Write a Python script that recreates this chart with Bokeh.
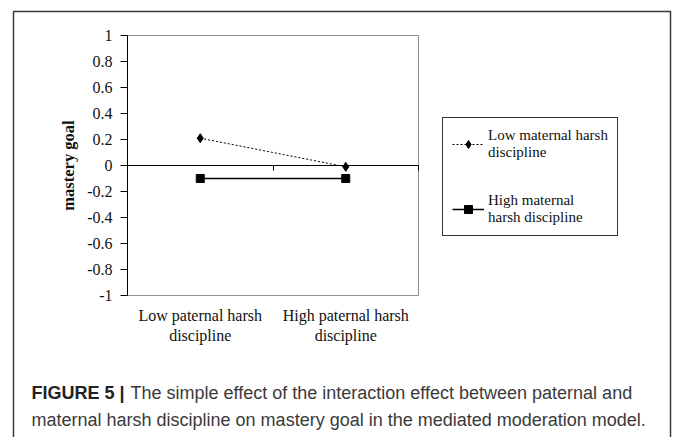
from bokeh.plotting import figure
from bokeh.models import (Range1d, LinearAxis, FixedTicker, CustomJSTickFormatter,
                          Legend, LegendItem, Label, BoxAnnotation)
from bokeh.embed import file_html
from bokeh.resources import INLINE

categories = ["Low paternal harsh\ndiscipline", "High paternal harsh\ndiscipline"]
series_names = ["Low maternal harsh\ndiscipline", "High maternal\nharsh discipline"]
low_maternal = [0.21, -0.01]
high_maternal = [-0.10, -0.10]
y_ticks = [-1, -0.8, -0.6, -0.4, -0.2, 0, 0.2, 0.4, 0.6, 0.8, 1]
y_title = "mastery goal"
caption_bold = "FIGURE 5 |"
caption_lines = ["The simple effect of the interaction effect between paternal and",
                 "maternal harsh discipline on mastery goal in the mediated moderation model."]

# page / layout geometry (pixels)
W, H = 673, 437
PA_L, PA_R, PA_T, PA_B = 127, 418, 35, 295      # plot area
SERIF = "Liberation Serif"
SANS = "Liberation Sans"

n = len(categories)
xs = [i + 0.5 for i in range(n)]
bounds = list(range(n + 1))
y0, y1 = y_ticks[0], y_ticks[-1]

kx = (PA_R - PA_L) / n
ky = (PA_B - PA_T) / (y1 - y0)
x_range = Range1d(-PA_L / kx, (W - PA_L) / kx)
y_range = Range1d(y0 - (H - PA_B) / ky, y1 + PA_T / ky)

p = figure(width=W, height=H, output_backend="svg", toolbar_location=None,
           x_range=x_range, y_range=y_range, x_axis_type=None, y_axis_type=None,
           min_border=0)
p.grid.visible = False
p.outline_line_color = None
p.background_fill_color = "white"
p.border_fill_color = "white"

# plot-area border
p.quad(left=[0], right=[n], bottom=[y0], top=[y1], fill_color=None,
       line_color="#8c8c8c", line_width=1)

# value axis
yaxis = LinearAxis(ticker=FixedTicker(ticks=y_ticks), fixed_location=0, bounds=(y0, y1),
                   formatter=CustomJSTickFormatter(code="return (Math.round(tick*10)/10).toString()"),
                   axis_label=y_title)
yaxis.major_label_text_font = SERIF
yaxis.major_label_text_font_size = "16px"
yaxis.major_label_text_color = "#111"
yaxis.major_tick_out = 7
yaxis.major_tick_in = 0
yaxis.minor_tick_line_color = None
yaxis.axis_line_color = "black"
yaxis.major_tick_line_color = "black"
yaxis.major_label_standoff = 8
yaxis.axis_label_text_font = SERIF
yaxis.axis_label_text_font_style = "bold"
yaxis.axis_label_text_font_size = "16.5px"
yaxis.axis_label_text_color = "#111"
yaxis.axis_label_standoff = 6
p.add_layout(yaxis, "left")

# category labels below the plot area
xaxis = LinearAxis(ticker=FixedTicker(ticks=xs), fixed_location=y0, bounds=(0, n),
                   formatter=CustomJSTickFormatter(args=dict(labels=categories),
                                                   code="return labels[Math.floor(tick)]"))
xaxis.axis_line_color = None
xaxis.major_tick_line_color = None
xaxis.minor_tick_line_color = None
xaxis.major_label_text_font = SERIF
xaxis.major_label_text_font_size = "16px"
xaxis.major_label_text_color = "#111"
xaxis.major_label_standoff = 5
p.add_layout(xaxis, "below")

# horizontal axis line crossing at zero with category-boundary ticks
zaxis = LinearAxis(ticker=FixedTicker(ticks=bounds), fixed_location=0, bounds=(0, n),
                   formatter=CustomJSTickFormatter(code="return ''"))
zaxis.axis_line_color = "black"
zaxis.major_tick_line_color = "black"
zaxis.minor_tick_line_color = None
zaxis.major_tick_out = 5
zaxis.major_tick_in = 0
p.add_layout(zaxis, "below")

r1 = p.line(xs, low_maternal, line_dash="2 2", line_color="black", line_width=1)
r2 = p.scatter(xs, low_maternal, marker="diamond", size=9, color="black")
r3 = p.line(xs, high_maternal, line_color="black", line_width=1.3)
r4 = p.scatter(xs, high_maternal, marker="square", size=8, color="black")

legend = Legend(items=[LegendItem(label=series_names[0], renderers=[r1, r2]),
                       LegendItem(label=series_names[1], renderers=[r3, r4])],
                location=(442, H - 236))
legend.border_line_color = "#333"
legend.border_line_alpha = 1
legend.border_line_width = 1
legend.background_fill_color = "white"
legend.background_fill_alpha = 1
legend.label_text_font = SERIF
legend.label_text_font_size = "15px"
legend.label_text_color = "#111"
legend.label_text_line_height = 1.1
legend.glyph_width = 32
legend.glyph_height = 20
legend.label_standoff = 4
legend.padding = 9
legend.spacing = 31
legend.margin = 0
p.add_layout(legend)

# outer figure frame (open at the bottom)
p.add_layout(BoxAnnotation(left=13, right=670, top=11, bottom=H + 30,
                           left_units="canvas", right_units="canvas",
                           top_units="canvas", bottom_units="canvas",
                           fill_alpha=0, line_color="#3a3a3a", line_alpha=1,
                           line_width=1.5))

# caption
p.add_layout(Label(x=31, y=392, x_units="canvas", y_units="canvas", text=caption_bold,
                   text_font=SANS, text_font_size="18px", text_font_style="bold",
                   text_color="#222", text_baseline="middle"))
p.add_layout(Label(x=130, y=392, x_units="canvas", y_units="canvas", text=caption_lines[0],
                   text_font=SANS, text_font_size="18px", text_color="#3a3a3a",
                   text_baseline="middle"))
p.add_layout(Label(x=31, y=419, x_units="canvas", y_units="canvas", text=caption_lines[1],
                   text_font=SANS, text_font_size="18px", text_color="#3a3a3a",
                   text_baseline="middle"))

open("out.html", "w").write(file_html(p, INLINE))
